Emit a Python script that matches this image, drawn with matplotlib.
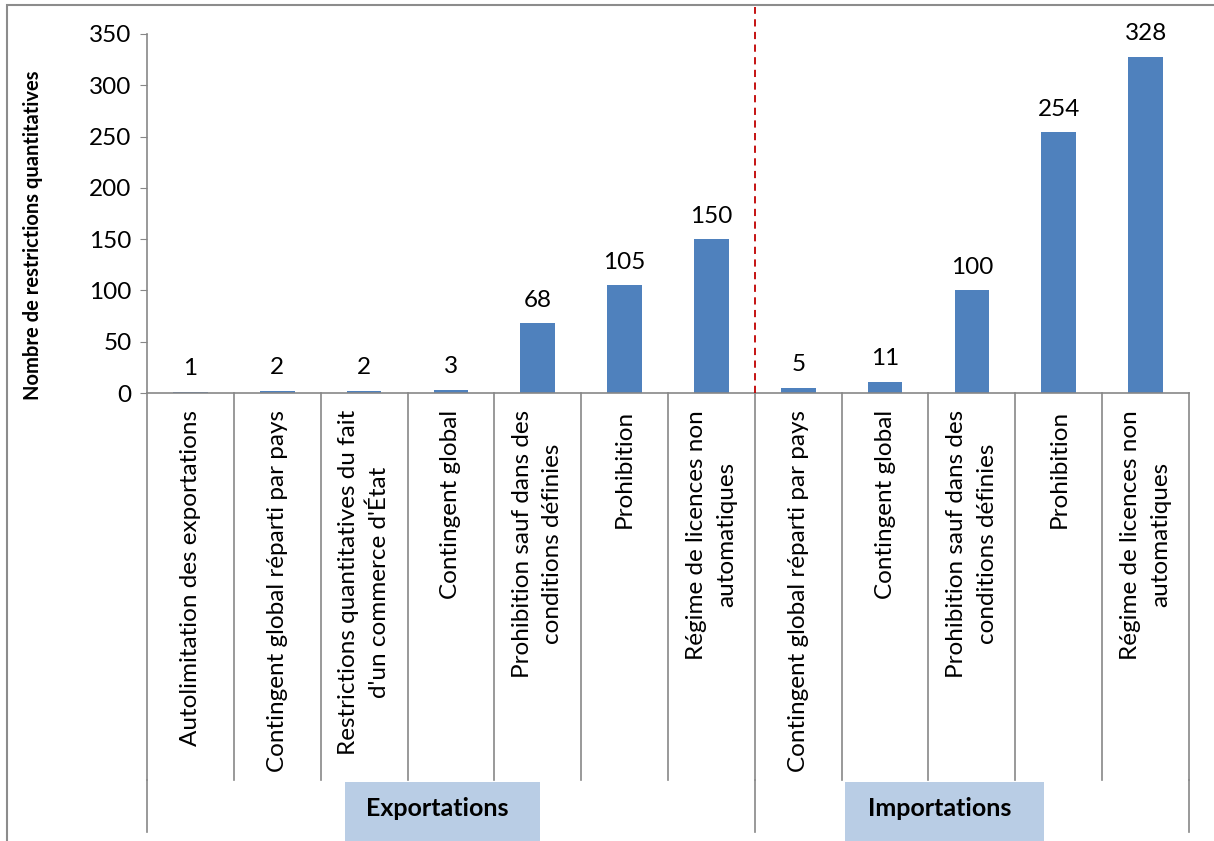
import matplotlib
matplotlib.use("Agg")
import matplotlib.pyplot as plt
from matplotlib.patches import Rectangle

plt.rcParams["font.family"] = ["Lato", "DejaVu Sans"]

# data
categories = [
    "Autolimitation des exportations",
    "Contingent global réparti par pays",
    "Restrictions quantitatives du fait\nd'un commerce d'État",
    "Contingent global",
    "Prohibition sauf dans des\nconditions définies",
    "Prohibition",
    "Régime de licences non\nautomatiques",
    "Contingent global réparti par pays",
    "Contingent global",
    "Prohibition sauf dans des\nconditions définies",
    "Prohibition",
    "Régime de licences non\nautomatiques",
]
values = [1, 2, 2, 3, 68, 105, 150, 5, 11, 100, 254, 328]
groups = ["Exportations", "Importations"]
group_sizes = [7, 5]

W, H = 1214, 841
BAR = "#4F81BD"
GRID = "#878787"
FS = 17.5

fig = plt.figure(figsize=(W / 100, H / 100), dpi=100)

# plot area in pixels: x 147..1189, y 34 (350) .. 393 (0)
x0, x1, ytop, ybot = 147, 1189, 34, 393
ax = fig.add_axes([x0 / W, 1 - ybot / H, (x1 - x0) / W, (ybot - ytop) / H])

n = len(values)
xs = list(range(n))
ax.bar(xs, values, width=0.40, color=BAR, zorder=2)
for x, v in zip(xs, values):
    ax.annotate(str(v), (x, v), xytext=(0, 9), textcoords="offset points",
                ha="center", va="bottom", fontsize=FS)

ax.set_xlim(-0.5, n - 0.5)
ax.set_ylim(0, 350)
ax.set_yticks(range(0, 351, 50))
ax.tick_params(axis="y", labelsize=FS, length=5, color=GRID, pad=6)
ax.set_xticks([])
for s in ["top", "right"]:
    ax.spines[s].set_visible(False)
ax.spines["left"].set_color(GRID)
ax.spines["bottom"].set_color(GRID)
ax.spines["left"].set_linewidth(1.2)
ax.spines["bottom"].set_linewidth(1.2)

ax.set_ylabel("Nombre de restrictions quantitatives", fontsize=14.5,
              fontweight="bold")
ax.yaxis.set_label_coords(-(x0 - 43) / (x1 - x0), 0.44)


def ay(py):
    # pixel row -> axes fraction
    return (ybot - py) / (ybot - ytop)


tr = ax.get_xaxis_transform()

# category separators
for i in range(n + 1):
    ax.plot([i - 0.5, i - 0.5], [0, ay(780)], transform=tr, color=GRID,
            lw=1.2, clip_on=False)
# group separators
edges = [0]
for g in group_sizes:
    edges.append(edges[-1] + g)
for e in edges:
    ax.plot([e - 0.5, e - 0.5], [ay(780), ay(832)], transform=tr, color=GRID,
            lw=1.2, clip_on=False)

# rotated category labels
for x, lab in zip(xs, categories):
    ax.text(x, ay(410), lab, transform=tr, rotation=90, ha="center", va="top",
            fontsize=FS, multialignment="center", linespacing=1.55)

# group labels in shaded boxes
box_px = [(345, 540), (845, 1044)]
for (bx0, bx1), g in zip(box_px, groups):
    fig.patches.append(Rectangle((bx0 / W, 1 - 841 / H), (bx1 - bx0) / W,
                                 (841 - 782) / H, transform=fig.transFigure,
                                 facecolor="#B9CDE5", edgecolor="none"))
    fig.text((bx0 + bx1) / 2 / W - 0.004, 1 - 809 / H, g, ha="center",
             va="center", fontsize=18, fontweight="bold")

# red dashed divider between exports and imports
div = edges[1] - 0.5
ax.plot([div, div], [0, ay(7)], transform=tr, color="#C00000", lw=1.3,
        ls=(0, (4, 3)), clip_on=False, zorder=3)

# outer chart frame
fig.patches.append(Rectangle((7 / W, -0.01), (W - 7 + 10) / W, 1 - 5 / H + 0.01,
                             transform=fig.transFigure, facecolor="none",
                             edgecolor="#8C8C8C", lw=1.5))

fig.savefig("out.png", dpi=100)
